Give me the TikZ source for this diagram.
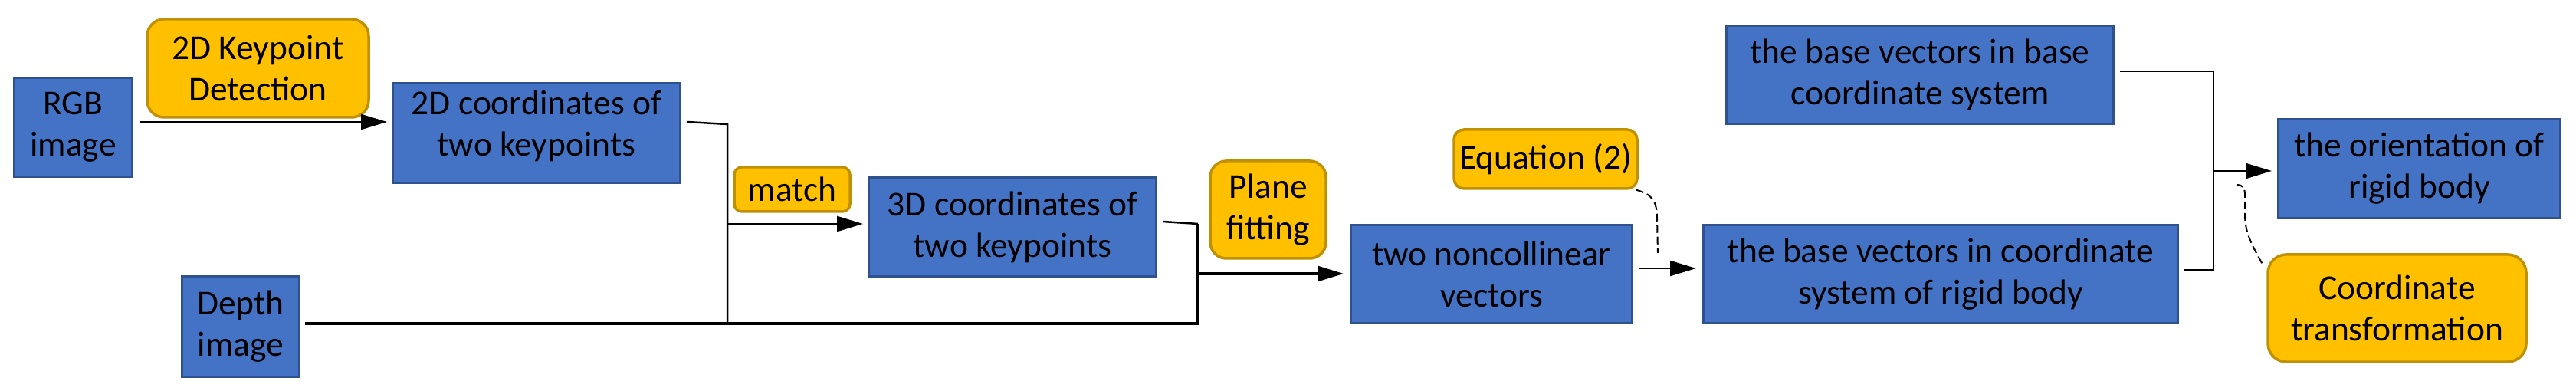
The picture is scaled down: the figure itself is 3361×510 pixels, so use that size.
\documentclass[tikz,border=0pt]{standalone}
\usepackage{fontspec}
\setmainfont{Carlito}
\usetikzlibrary{arrows.meta,calc}
\definecolor{bfill}{HTML}{4472C4}
\definecolor{bdraw}{HTML}{2F528F}
\definecolor{yfill}{HTML}{FFC000}
\definecolor{ydraw}{HTML}{BF9000}
\begin{document}
\begin{tikzpicture}[x=1pt,y=1pt,
  every node/.style={font=\fontsize{45.5}{54}\selectfont, align=center, inner sep=0pt, text=black},
  bluebox/.style={draw=bdraw, fill=bfill, line width=3pt},
  yelbox/.style={draw=ydraw, fill=yfill, line width=3.5pt},
  sz/.style 2 args={minimum width=#1pt, minimum height=#2pt},
  conn/.style={line width=2.5pt},
  thinconn/.style={line width=2pt},
  thickconn/.style={line width=3.2pt},
  arr/.style={-{Triangle[length=34pt,width=20pt]}},
  dconn/.style={line width=2pt, dash pattern=on 10pt off 5pt}]
\useasboundingbox (0,0) rectangle (3361,-510);
\fill[white] (0,0) rectangle (3361,-510);

% nodes
\node[bluebox, sz={154}{129}] (rgb) at (95.5,-166) {RGB\\image};
\node[yelbox, sz={289}{128}, rounded corners=22pt] (kpd) at (336.5,-89) {2D Keypoint\\Detection};
\node[bluebox, sz={375}{130}] (c2d) at (700,-173.5) {\raisebox{8pt}[\height][\depth]{\begin{tabular}{@{}c@{}}2D coordinates of\\two keypoints\end{tabular}}};
\node[bluebox, sz={153}{131}] (depth) at (314,-426) {Depth\\image};
\node[yelbox, sz={151}{58}, rounded corners=10pt] (match) at (1033.5,-247) {match};
\node[bluebox, sz={375}{129}] (c3d) at (1321,-296) {3D coordinates of\\two keypoints};
\node[yelbox, sz={151}{127}, rounded corners=21pt] (plane) at (1654.5,-273.5) {Plane\\fitting};
\node[bluebox, sz={367}{128}] (nonc) at (1946,-357.5) {two noncollinear\\vectors};
\node[yelbox, sz={239}{77}, rounded corners=13pt] (eq) at (2016.5,-207.5) {Equation (2)};
\node[bluebox, sz={619}{128}] (bvr) at (2532,-357.5) {the base vectors in coordinate\\system of rigid body};
\node[bluebox, sz={505}{128}] (bvb) at (2505,-97.5) {the base vectors in base\\coordinate system};
\node[bluebox, sz={368}{129}] (orient) at (3156.5,-220) {the orientation of\\rigid body};
\node[yelbox, sz={337}{140}, rounded corners=24pt] (ct) at (3127.5,-402) {Coordinate\\transformation};

% junction coordinates
\coordinate (j1t) at (949,-162);
\coordinate (j1m) at (949,-292);
\coordinate (j1b) at (949,-422);
\coordinate (j2t) at (1563,-292);
\coordinate (j2m) at (1563,-357);
\coordinate (j2b) at (1563,-422);
\coordinate (j3t) at (2888,-93);
\coordinate (j3m) at (2888,-223);
\coordinate (j3b) at (2888,-352);

% connectors
\draw[thinconn, arr] ($(rgb.east)+(9,7)$) -- ($(c2d.west)+(-6,14.5)$);
\draw[conn] ($(c2d.east)+(7,14.5)$) -- (j1t) -- (j1b);
\draw[thickconn] ($(depth.east)+(6,4)$) -- (j2b) -- (j2t);
\draw[conn] ($(c3d.east)+(7,7)$) -- (j2t);
\draw[conn, arr] (j1m) -- ($(c3d.west)+(-6,4)$);
\draw[thickconn, arr] (j2m) -- ($(nonc.west)+(-8,0.5)$);
\draw[thinconn, arr] ($(nonc.east)+(7,7.5)$) -- ($(bvr.west)+(-8,7.5)$);
\draw[dconn] ($(eq.south east)+(-3,0)$) .. controls (2155,-253) and (2162,-262) .. (2162,-285) -- (2163,-330);
\draw[conn] ($(bvb.east)+(7,4.5)$) -- (j3t) -- (j3b) -- ($(bvr.east)+(6,5.5)$);
\draw[conn, arr] (j3m) -- ($(orient.west)+(-7,-3)$);
\draw[dconn] ($(ct.north west)+(-6,-13)$) .. controls (2935,-315) and (2929,-300) .. (2929,-280) -- (2929,-252) .. controls (2929,-245) and (2925,-241) .. (2919,-241);
\end{tikzpicture}
\end{document}
